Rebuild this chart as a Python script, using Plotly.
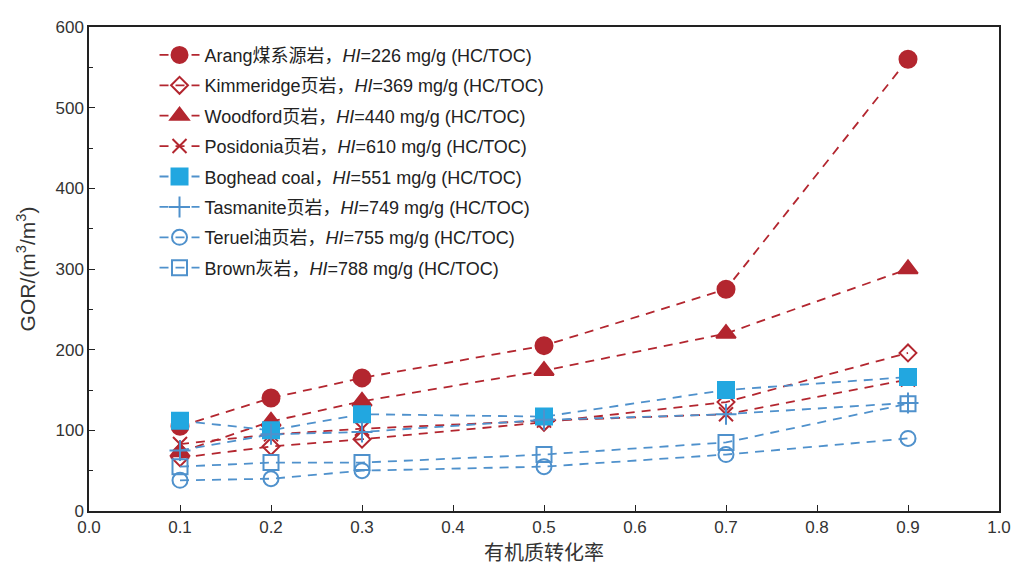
import plotly.graph_objects as go

x = [0.1, 0.2, 0.3, 0.5, 0.7, 0.9]

names = [
    "Arang煤系源岩，<i>HI</i>=226 mg/g (HC/TOC)",
    "Kimmeridge页岩，<i>HI</i>=369 mg/g (HC/TOC)",
    "Woodford页岩，<i>HI</i>=440 mg/g (HC/TOC)",
    "Posidonia页岩，<i>HI</i>=610 mg/g (HC/TOC)",
    "Boghead coal，<i>HI</i>=551 mg/g (HC/TOC)",
    "Tasmanite页岩，<i>HI</i>=749 mg/g (HC/TOC)",
    "Teruel油页岩，<i>HI</i>=755 mg/g (HC/TOC)",
    "Brown灰岩，<i>HI</i>=788 mg/g (HC/TOC)",
]

arang = [105, 140, 165, 205, 275, 560]
kimmeridge = [66, 80, 89, 110, 135, 196]
woodford = [73, 111, 136, 174, 220, 300]
posidonia = [83, 95, 102, 112, 120, 163]
boghead = [112, 100, 120, 117, 150, 166]
tasmanite = [75, 95, 98, 113, 120, 134]
teruel = [38, 40, 50, 55, 70, 90]
brown = [55, 60, 60, 70, 85, 133]

series = [arang, kimmeridge, woodford, posidonia, boghead, tasmanite, teruel, brown]

RED = "#B3262F"
BLUE_FILL = "#22A7E0"
BLUE = "#4F91CC"

styles = [
    dict(color=RED, symbol="circle", size=17, fill=RED),
    dict(color=RED, symbol="diamond-open", size=13, fill=RED),
    dict(color=RED, symbol="triangle-up", size=17, fill=RED),
    dict(color=RED, symbol="x-thin-open", size=14, fill=RED),
    dict(color=BLUE, symbol="square", size=16, fill=BLUE_FILL),
    dict(color=BLUE, symbol="cross-thin-open", size=15, fill=BLUE),
    dict(color=BLUE, symbol="circle-open", size=15, fill=BLUE),
    dict(color=BLUE, symbol="square-open", size=15, fill=BLUE),
]

fig = go.Figure()
for i, (nm, ys, st) in enumerate(zip(names, series, styles)):
    fig.add_trace(go.Scatter(
        x=x, y=ys, name=nm, mode="lines+markers",
        legendgroup=f"g{i}",
        line=dict(color=st["color"], width=1.8, dash="9px,7px"),
        marker=dict(symbol=st["symbol"], size=st["size"], color=st["fill"],
                    line=dict(color=st["color"] if st["symbol"].endswith("open") else st["fill"], width=2)),
    ))

axis_common = dict(
    showline=True, linecolor="#222", linewidth=1.5, mirror=True,
    ticks="inside", ticklen=6, tickcolor="#222", tickwidth=1.2,
    showgrid=False, zeroline=False,
    tickfont=dict(family="Liberation Sans, Arial", size=17, color="#333"),
)

fig.update_xaxes(range=[0, 1.0], dtick=0.1, tickformat=".1f",
                 title=dict(text="有机质转化率", font=dict(family="Noto Sans CJK SC", size=20, color="#333"), standoff=8),
                 **axis_common)
fig.update_yaxes(range=[0, 600], dtick=100,
                 minor=dict(dtick=50, ticks="inside", ticklen=4, tickcolor="#222"),
                 title=dict(text="GOR/(m<sup>3</sup>/m<sup>3</sup>)", font=dict(family="Liberation Sans, Arial", size=21, color="#333"), standoff=14),
                 **axis_common)

fig.update_layout(
    width=1013, height=561,
    margin=dict(l=81, r=14, t=10, b=52),
    plot_bgcolor="white", paper_bgcolor="white",
    legend=dict(x=0.072, y=0.98, xanchor="left", yanchor="top",
                font=dict(family="Liberation Sans, Noto Sans CJK SC", size=18, color="#222"),
                tracegroupgap=4, bgcolor="rgba(0,0,0,0)", itemwidth=40),
    showlegend=True,
)

fig.write_html("out.html")
